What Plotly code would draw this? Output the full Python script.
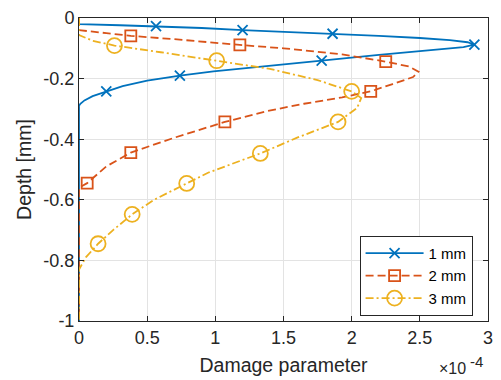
import plotly.graph_objects as go

SCALE = 1e-4
series_names = ["1 mm", "2 mm", "3 mm"]
colors = ["#0072BD", "#D95319", "#EDB120"]

# curve values (damage in units of 1e-4, depth in mm)
d1_x = [0, 0, 0.3, 0.565, 0.9, 1.2, 1.55, 1.86, 2.2, 2.5, 2.72, 2.85, 2.9, 2.82, 2.54, 2.2, 1.78, 1.35, 0.986, 0.74, 0.5, 0.32, 0.2, 0.1, 0.04, 0.01, 0, 0]
d1_y = [0, -0.02, -0.024, -0.027, -0.033, -0.04, -0.046, -0.052, -0.059, -0.066, -0.073, -0.080, -0.088, -0.096, -0.107, -0.122, -0.141, -0.160, -0.176, -0.19, -0.207, -0.225, -0.242, -0.258, -0.272, -0.283, -0.29, -1.0]
d2_x = [0, 0, 0.2, 0.38, 0.7, 0.98, 1.18, 1.5, 1.93, 2.25, 2.42, 2.49, 2.45, 2.3, 2.14, 1.93, 1.65, 1.38, 1.07, 0.7, 0.38, 0.2, 0.06, 0, 0]
d2_y = [0, -0.04, -0.05, -0.059, -0.07, -0.082, -0.089, -0.10, -0.12, -0.144, -0.16, -0.177, -0.195, -0.218, -0.242, -0.262, -0.283, -0.307, -0.343, -0.395, -0.444, -0.49, -0.545, -0.56, -1.0]
d3_x = [0, 0, 0.1, 0.26, 0.6, 1.01, 1.4, 1.75, 2.0, 2.07, 2.04, 1.90, 1.6, 1.33, 0.95, 0.79, 0.55, 0.39, 0.25, 0.14, 0.05, 0, 0]
d3_y = [0, -0.056, -0.075, -0.091, -0.113, -0.141, -0.168, -0.205, -0.242, -0.264, -0.297, -0.343, -0.395, -0.447, -0.51, -0.546, -0.60, -0.648, -0.70, -0.745, -0.79, -0.83, -1.0]

# marker values
m1_x = [0.565, 1.2, 1.86, 2.9, 1.78, 0.74, 0.2]
m1_y = [-0.027, -0.04, -0.052, -0.088, -0.141, -0.19, -0.242]
m2_x = [0.38, 1.18, 2.25, 2.14, 1.07, 0.38, 0.06]
m2_y = [-0.059, -0.089, -0.144, -0.242, -0.343, -0.444, -0.545]
m3_x = [0.26, 1.01, 2.0, 1.90, 1.33, 0.79, 0.39, 0.14]
m3_y = [-0.091, -0.141, -0.242, -0.343, -0.447, -0.546, -0.648, -0.745]

x_ticks = [0, 0.5, 1, 1.5, 2, 2.5, 3]
x_tick_labels = ["0", "0.5", "1", "1.5", "2", "2.5", "3"]
y_ticks = [0, -0.2, -0.4, -0.6, -0.8, -1]
y_tick_labels = ["0", "-0.2", "-0.4", "-0.6", "-0.8", "-1"]

curves = [(d1_x, d1_y), (d2_x, d2_y), (d3_x, d3_y)]
marks = [(m1_x, m1_y), (m2_x, m2_y), (m3_x, m3_y)]
dashes = ["solid", "8px,4px", "8px,3px,2px,3px"]
symbols = ["x-thin-open", "square-open", "circle-open"]
msizes = [10, 11, 15]

fig = go.Figure()
for i in range(3):
    cx, cy = curves[i]
    mx, my = marks[i]
    fig.add_trace(go.Scatter(x=[v * SCALE for v in cx], y=cy, mode="lines",
                             line=dict(color=colors[i], width=1.8, dash=dashes[i]),
                             showlegend=False, hoverinfo="skip"))
    fig.add_trace(go.Scatter(x=[v * SCALE for v in mx], y=my, mode="markers",
                             marker=dict(symbol=symbols[i], size=msizes[i],
                                         color=colors[i], line=dict(color=colors[i], width=1.8)),
                             showlegend=False))
for i in range(3):
    fig.add_trace(go.Scatter(x=[None], y=[None], mode="lines+markers", name=series_names[i],
                             line=dict(color=colors[i], width=1.8, dash=dashes[i]),
                             marker=dict(symbol=symbols[i], size=msizes[i],
                                         color=colors[i], line=dict(color=colors[i], width=1.8))))

axcol = "#262626"
fam = "Liberation Sans, Arial, sans-serif"
tickfont = dict(family=fam, size=18, color=axcol)
labfont = dict(family=fam, size=19.5, color=axcol)
fig.update_layout(
    width=501, height=380,
    margin=dict(l=79, r=8, t=16, b=58),
    paper_bgcolor="white", plot_bgcolor="white",
    font=tickfont,
    legend=dict(x=0.686, y=0.281, xanchor="left", yanchor="top",
                bgcolor="white", bordercolor=axcol, borderwidth=1,
                font=dict(family=fam, size=15, color="black"),
                itemwidth=58, tracegroupgap=0),
    xaxis=dict(range=[0, 3e-4], tickvals=[v * SCALE for v in x_ticks], ticktext=x_tick_labels,
               tickfont=tickfont,
               showgrid=True, gridcolor="#e3e3e3", gridwidth=1,
               showline=True, linecolor=axcol, linewidth=1, mirror="ticks",
               ticks="inside", ticklen=5, tickcolor=axcol, zeroline=False,
               title=dict(text="Damage parameter", standoff=11, font=labfont)),
    yaxis=dict(range=[-1, 0], tickvals=y_ticks, ticktext=y_tick_labels,
               tickfont=tickfont,
               showgrid=True, gridcolor="#e3e3e3", gridwidth=1,
               showline=True, linecolor=axcol, linewidth=1, mirror="ticks",
               ticks="inside", ticklen=5, tickcolor=axcol, zeroline=False,
               title=dict(text="Depth [mm]", standoff=6, font=labfont)),
)
fig.add_annotation(text="×10", xref="paper", yref="paper", x=0.9517, y=-0.157,
                   xanchor="right", yanchor="middle", showarrow=False,
                   font=dict(family=fam, size=16, color=axcol))
fig.add_annotation(text="-4", xref="paper", yref="paper", x=0.9517, y=-0.133,
                   xanchor="left", yanchor="middle", showarrow=False,
                   font=dict(family=fam, size=15, color=axcol))
fig.write_html("out.html")
